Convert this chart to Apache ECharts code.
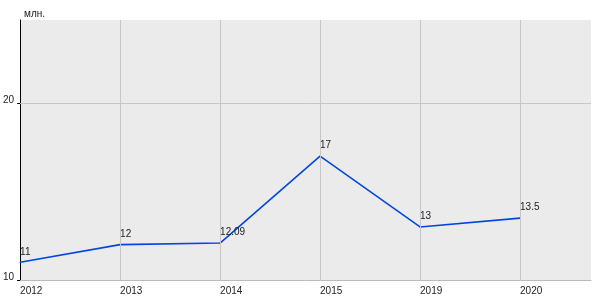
<!DOCTYPE html>
<html><head><meta charset="utf-8">
<script src="https://cdn.jsdelivr.net/npm/echarts@6/dist/echarts.min.js"></script>
<style>html,body{margin:0;padding:0;background:#fff}#c{width:600px;height:300px}</style>
</head><body><div id="c"></div>
<script>
var categories = ['2012', '2013', '2014', '2015', '2019', '2020'];
var values = [11, 12, 12.09, 17, 13, 13.5];
var yTicks = [10, 20];
var unitLabel = 'млн.';

var chart = echarts.init(document.getElementById('c'), null, {renderer: 'canvas'});
var font = 'Liberation Sans, Arial, sans-serif';
var idx = categories.map(function (c, i) { return i; });
chart.setOption({
  animation: false,
  backgroundColor: '#fff',
  title: {text: unitLabel, left: 19, top: 4, textStyle: {fontSize: 10, fontWeight: 'normal', color: '#222', fontFamily: font}},
  grid: {left: 20, right: 9, top: 20, bottom: 20, show: true, backgroundColor: '#ebebeb', borderWidth: 0},
  xAxis: {
    type: 'value', min: 0, max: 5.71, interval: 1,
    axisLine: {show: true, onZero: false, lineStyle: {color: '#bbbbbb', width: 1}},
    axisTick: {show: false},
    axisLabel: {customValues: idx, formatter: function (v) { return categories[Math.round(v)]; }, align: 'left', margin: 6, fontSize: 10, color: '#222', fontFamily: font},
    splitLine: {show: false}
  },
  yAxis: {
    type: 'value', min: 10, max: 24.7, interval: 10,
    axisLine: {show: true, lineStyle: {color: '#000', width: 1}},
    axisTick: {show: true, customValues: yTicks, length: 3, lineStyle: {color: '#000'}},
    axisLabel: {customValues: yTicks, margin: 6, fontSize: 10, color: '#222', fontFamily: font, verticalAlign: 'bottom', lineHeight: 6},
    splitLine: {show: false}
  },
  series: [{
    type: 'line',
    data: values.map(function (v, i) { return [i, v]; }),
    symbol: 'circle', symbolSize: 1,
    itemStyle: {color: '#0047e0'},
    lineStyle: {color: '#0047e0', width: 1.6},
    label: {show: true, position: 'top', align: 'left', distance: 5, fontSize: 10, color: '#222', fontFamily: font},
    markLine: {
      silent: true, symbol: 'none', label: {show: false},
      lineStyle: {color: '#c6c6c6', width: 1, type: 'solid'},
      data: [{yAxis: 20}].concat(idx.slice(1).map(function (i) { return {xAxis: i}; }))
    },
    z: 3
  }]
});
</script></body></html>
